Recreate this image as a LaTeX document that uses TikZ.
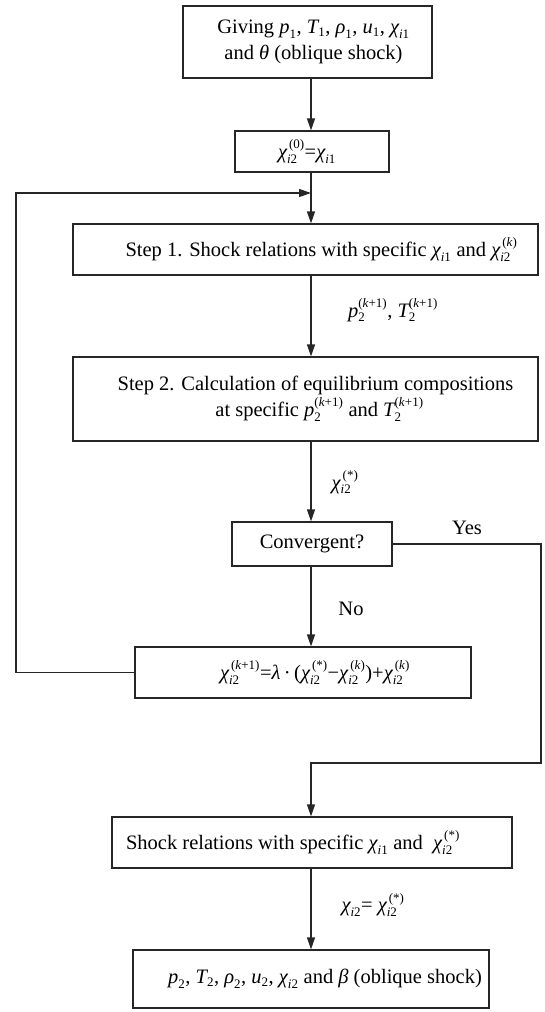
\documentclass[tikz,border=0pt]{standalone}
\usepackage{amsmath}
\usepackage{fontspec}
\setmainfont{Liberation Serif}
\usetikzlibrary{arrows.meta}
\DeclareMathSizes{20.5}{20.5}{13}{10}
\newcommand{\ti}[1]{\text{\itshape #1}}
\newcommand{\tu}[1]{\text{\upshape #1}}
\newcommand{\Xs}[1]{$\ti{χ}_{\ti{i}\tu{#1}}$}
\newcommand{\Xss}[2]{$\ti{χ}_{\ti{i}\tu{#1}}^{\,\tu{#2}}$}
\newcommand{\Vs}[2]{$\ti{#1}_{\tu{#2}}$}
\newcommand{\Vss}[3]{$\ti{#1}_{\tu{#2}}^{\tu{#3}}$}
\begin{document}
\begin{tikzpicture}[x=1pt,y=-1pt,
  font=\fontsize{20.5}{26}\selectfont,
  box/.style={draw=black!85, line width=1.2pt, inner sep=0pt, align=center},
  arr/.style={draw=black!85, line width=1.2pt, -{Triangle[length=12pt,width=8pt]}},
  lbl/.style={inner sep=0pt}]
\useasboundingbox (0,0) rectangle (544,1012);
\coordinate (sp) at (311,0);
\node[box, minimum width=249pt, minimum height=72pt] (b1) at (307.5,42)
  {\hspace*{12pt}Giving \Vs{p}{1}, \Vs{T}{1}, \Vs{ρ}{1}, \Vs{u}{1}, \Xs{1}\\
   \hspace*{12pt}and \textit{θ} (oblique shock)};
\node[box, minimum width=154pt, minimum height=41pt] (b2) at (312,151.5)
  {\Xss{2}{(0)}=\Xs{1}\hspace*{10pt}};
\node[box, minimum width=465pt, minimum height=51pt] (b3) at (305.5,249.5)
  {\hspace*{32pt}Step 1. Shock relations with specific \Xs{1} and \Xss{2}{(\textit{k})}};
\node[box, minimum width=465pt, minimum height=84pt] (b4) at (305.5,399)
  {\hspace*{20pt}Step 2. Calculation of equilibrium compositions\\
   \hspace*{28pt}at specific \Vss{p}{2}{(\textit{k}+1)} and \Vss{T}{2}{(\textit{k}+1)}};
\node[box, minimum width=160pt, minimum height=44pt] (cv) at (312,544)
  {Convergent?};
\node[box, minimum width=336pt, minimum height=51pt] (b5) at (303,672.5)
  {\hspace*{24pt}\Xss{2}{(\textit{k}+1)}=\textit{λ}\,·\,(\Xss{2}{(*)}−\Xss{2}{(\textit{k})})+\Xss{2}{(\textit{k})}};
\node[box, minimum width=400pt, minimum height=51pt] (b6) at (312,842.5)
  {Shock relations with specific \Xs{1} and~ \Xss{2}{(*)}\hspace*{38pt}};
\node[box, minimum width=356pt, minimum height=58pt] (b7) at (311,979)
  {\hspace*{28pt}\Vs{p}{2}, \Vs{T}{2}, \Vs{ρ}{2}, \Vs{u}{2}, \Xs{2} and \textit{β} (oblique shock)};
% labels
\node[lbl] (l1) at (393,310) {\Vss{p}{2}{(\textit{k}+1)}, \Vss{T}{2}{(\textit{k}+1)}};
\node[lbl] (l2) at (345,482) {\Xss{2}{(*)}};
\node[lbl] (l3) at (467,528) {Yes};
\node[lbl] (l4) at (351,609) {No};
\node[lbl] (l5) at (373,905) {\Xs{2}= \Xss{2}{(*)}};
% connectors
\coordinate (j) at (311,193);
\coordinate (lx) at (16,193);
\coordinate (yb) at (541,763);
\draw[arr] (b1.south -| sp) -- (b2.north -| sp);
\draw[arr] (b2.south -| sp) -- (b3.north -| sp);
\draw[arr] (b5.west) -- (b5.west -| lx) -- (lx) -- (j);
\draw[arr] (b3.south -| sp) -- (b4.north -| sp);
\draw[arr] (b4.south -| sp) -- (cv.north -| sp);
\draw[arr] (cv.south -| sp) -- (b5.north -| sp);
\draw[arr] (cv.east) -| (yb) -- (yb -| sp) -- (b6.north -| sp);
\draw[arr] (b6.south -| sp) -- (b7.north -| sp);
\end{tikzpicture}
\end{document}
